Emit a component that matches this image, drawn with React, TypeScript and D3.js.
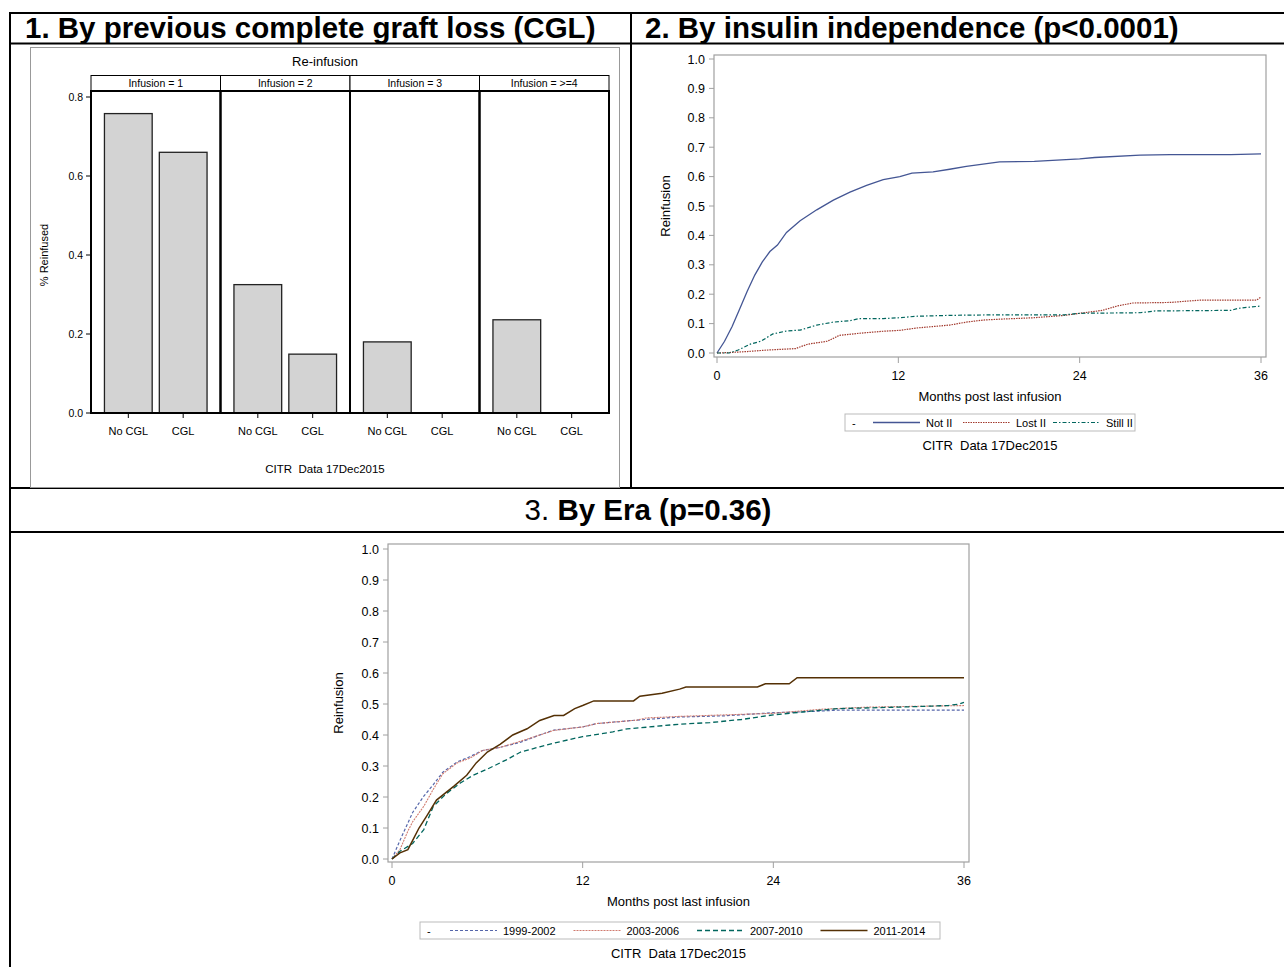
import React from 'react';
import * as d3 from 'd3';

const font = "'Liberation Sans', Arial, Helvetica, sans-serif";
const footnote = 'CITR\u00a0\u00a0Data 17Dec2015';

// panel 1: bar chart by previous complete graft loss
const infusionGroups = ['Infusion = 1', 'Infusion = 2', 'Infusion = 3', 'Infusion = >=4'];
const cglGroups = ['No CGL', 'CGL'];
const noCglReinfused = [0.758, 0.325, 0.18, 0.236];
const cglReinfused = [0.66, 0.149, 0, 0];
const barTicks = [0, 0.2, 0.4, 0.6, 0.8];

// panel 2: by insulin independence, [month, cumulative reinfusion]
const notII = [[0,0],[0.5,0.04],[1,0.09],[1.5,0.15],[2,0.21],[2.5,0.265],[3,0.31],[3.5,0.345],[4,0.367],[4.6,0.41],[5.5,0.45],[6.6,0.487],[7.7,0.52],[8.8,0.547],[9.9,0.57],[11,0.59],[12.1,0.6],[12.9,0.612],[14.3,0.616],[15.4,0.625],[16.5,0.635],[18.7,0.65],[21,0.652],[24,0.66],[25,0.665],[28,0.673],[30,0.675],[34,0.675],[36,0.677]];
const lostII = [[0,0],[1,0.002],[2,0.005],[3.3,0.01],[5.2,0.015],[6,0.03],[7.3,0.04],[8.1,0.06],[9.4,0.067],[11,0.074],[12.1,0.077],[13.2,0.085],[14.3,0.09],[15.4,0.095],[16.5,0.105],[17.6,0.112],[18.7,0.115],[21,0.12],[23,0.128],[24,0.135],[25.5,0.145],[26.5,0.16],[27.5,0.17],[30,0.172],[32,0.18],[35.7,0.18],[36,0.19]];
const stillII = [[0,0],[0.8,0],[1.4,0.01],[2.2,0.03],[2.9,0.04],[3.7,0.065],[4.6,0.075],[5.5,0.078],[6.6,0.095],[7.7,0.105],[8.8,0.11],[9.4,0.117],[11,0.117],[12.1,0.12],[13.2,0.125],[15.4,0.128],[18.7,0.13],[23,0.13],[24,0.135],[28,0.137],[29,0.143],[34,0.145],[34.5,0.152],[36,0.16]];

// panel 3: by era
const era1999 = [[0,0],[0.5,0.06],[1.3,0.15],[1.96,0.2],[2.6,0.24],[3.2,0.28],[4.1,0.313],[4.9,0.33],[5.7,0.35],[6.8,0.36],[8.1,0.377],[9.3,0.4],[10.2,0.416],[12,0.426],[12.9,0.437],[15.4,0.448],[18.1,0.458],[21,0.462],[24,0.472],[26,0.475],[28,0.48],[36,0.48]];
const era2003 = [[0,0],[0.5,0.03],[1,0.09],[1.3,0.12],[2,0.17],[2.6,0.225],[3.2,0.275],[4.1,0.31],[4.9,0.325],[5.7,0.35],[6.8,0.36],[8.1,0.38],[9.3,0.4],[10.2,0.415],[12,0.426],[12.9,0.437],[15.4,0.448],[16,0.455],[18.1,0.46],[21,0.465],[24,0.47],[27,0.483],[30,0.49],[36,0.495]];
const era2007 = [[0,0],[0.5,0.025],[1.3,0.05],[2,0.095],[2.6,0.17],[3.4,0.21],[4.3,0.245],[5.1,0.27],[6,0.29],[7.2,0.32],[8.1,0.345],[9.3,0.362],[10.2,0.374],[12,0.395],[12.7,0.4],[13.9,0.41],[14.8,0.42],[16,0.425],[18.1,0.435],[20,0.44],[22,0.45],[24,0.465],[26,0.475],[28,0.485],[32,0.49],[35,0.495],[35.7,0.5],[36,0.505]];
const era2011 = [[0,0],[0.5,0.02],[1,0.03],[1.3,0.06],[1.7,0.1],[2.2,0.14],[2.8,0.19],[3.9,0.235],[4.7,0.27],[5.3,0.31],[6,0.345],[6.8,0.37],[7.6,0.4],[8.5,0.42],[9.3,0.447],[10.2,0.463],[10.8,0.463],[11.5,0.485],[12,0.495],[12.7,0.51],[15.2,0.51],[15.6,0.525],[17,0.535],[18.1,0.548],[18.5,0.555],[23,0.555],[23.5,0.565],[25,0.565],[25.5,0.585],[36,0.585]];

const monthTicks = [0, 12, 24, 36];
const kmTicks = [0, 0.1, 0.2, 0.3, 0.4, 0.5, 0.6, 0.7, 0.8, 0.9, 1.0];

const iiSeries = [
  { name: 'Not II', data: notII, color: '#445694', dash: null, width: 1.3 },
  { name: 'Lost II', data: lostII, color: '#A23A2E', dash: '1.5,1', width: 1.2 },
  { name: 'Still II', data: stillII, color: '#01665E', dash: '4,2,1.5,2', width: 1.2 },
];
const eraSeries = [
  { name: '1999-2002', data: era1999, color: '#5566AA', dash: '3,2', width: 1.2 },
  { name: '2003-2006', data: era2003, color: '#D07A6E', dash: '2,1', width: 1.1 },
  { name: '2007-2010', data: era2007, color: '#01665E', dash: '5,3', width: 1.3 },
  { name: '2011-2014', data: era2011, color: '#543005', dash: null, width: 1.5 },
];

function BarPanel() {
  const fx = d3.scaleBand().domain(infusionGroups).range([91, 609]).padding(0);
  const y = d3.scaleLinear().domain([0, 0.8]).range([413, 97]);
  const top = 91;
  return (
    <g fontFamily={font}>
      <rect x={30.5} y={47.5} width={589} height={440} fill="none" stroke="#999" />
      <text x={325} y={66} textAnchor="middle" fontSize={13}>Re-infusion</text>
      {barTicks.map((t) => (
        <g key={t}>
          <line x1={86} x2={91} y1={y(t)} y2={y(t)} stroke="#000" />
          <text x={83} y={y(t) + 3.5} textAnchor="end" fontSize={10.5}>{t.toFixed(1)}</text>
        </g>
      ))}
      <text transform="translate(48,255) rotate(-90)" textAnchor="middle" fontSize={11}>% Reinfused</text>
      {infusionGroups.map((g, i) => {
        const x0 = fx(g)!;
        const bx = d3.scaleBand().domain(cglGroups).range([x0, x0 + fx.bandwidth()]).paddingInner(0.13).paddingOuter(0.245);
        const vals = [noCglReinfused[i], cglReinfused[i]];
        return (
          <g key={g}>
            <rect x={x0} y={75.5} width={fx.bandwidth()} height={15.5} fill="#fff" stroke="#000" strokeWidth={1} />
            <text x={x0 + fx.bandwidth() / 2} y={86.5} textAnchor="middle" fontSize={10.5}>{g}</text>
            {cglGroups.map((c, j) => (
              <g key={c}>
                {vals[j] > 0 && (
                  <rect x={bx(c)!} y={y(vals[j])} width={bx.bandwidth()} height={y(0) - y(vals[j])}
                    fill="#D3D3D3" stroke="#222" strokeWidth={1.3} />
                )}
                <line x1={bx(c)! + bx.bandwidth() / 2} x2={bx(c)! + bx.bandwidth() / 2} y1={y(0)} y2={y(0) + 5} stroke="#000" />
                <text x={bx(c)! + bx.bandwidth() / 2} y={435} textAnchor="middle" fontSize={11}>{c}</text>
              </g>
            ))}
            <rect x={x0} y={top} width={fx.bandwidth()} height={y(0) - top} fill="none" stroke="#000" strokeWidth={2} />
          </g>
        );
      })}
      <text x={325} y={473} textAnchor="middle" fontSize={11.5}>{footnote}</text>
    </g>
  );
}

function KMPanel({ frame, xr, yr, series, legend, yLabelX }) {
  const x = d3.scaleLinear().domain([0, 36]).range(xr);
  const y = d3.scaleLinear().domain([0, 1]).range(yr);
  const line = d3.line().x((d) => x(d[0])).y((d) => y(d[1])).curve(d3.curveLinear);
  const cx = (frame.x0 + frame.x1) / 2;
  return (
    <g fontFamily={font}>
      <rect x={frame.x0} y={frame.y0} width={frame.x1 - frame.x0} height={frame.y1 - frame.y0} fill="none" stroke="#A0A0A0" strokeWidth={1.2} />
      {kmTicks.map((t) => (
        <g key={t}>
          <line x1={frame.x0 - 5} x2={frame.x0} y1={y(t)} y2={y(t)} stroke="#A0A0A0" />
          <text x={frame.x0 - 9} y={y(t) + 4.5} textAnchor="end" fontSize={12.5}>{t.toFixed(1)}</text>
        </g>
      ))}
      {monthTicks.map((t) => (
        <g key={t}>
          <line x1={x(t)} x2={x(t)} y1={frame.y1} y2={frame.y1 + 6} stroke="#A0A0A0" />
          <text x={x(t)} y={frame.y1 + 23} textAnchor="middle" fontSize={12.5}>{t}</text>
        </g>
      ))}
      <text transform={`translate(${yLabelX},${(frame.y0 + frame.y1) / 2}) rotate(-90)`} textAnchor="middle" fontSize={13}>Reinfusion</text>
      <text x={cx} y={frame.y1 + 44} textAnchor="middle" fontSize={13}>Months post last infusion</text>
      {series.map((s) => (
        <path key={s.name} d={line(s.data)} fill="none" stroke={s.color} strokeWidth={s.width}
          strokeDasharray={s.dash || undefined} />
      ))}
      <rect x={legend.x0} y={legend.y} width={legend.x1 - legend.x0} height={17} fill="#fff" stroke="#BBB" />
      <text x={legend.x0 + 7} y={legend.y + 13} fontSize={11}>-</text>
      {series.map((s, i) => {
        const lx = legend.x0 + legend.first + i * legend.step;
        return (
          <g key={s.name}>
            <line x1={lx} x2={lx + 47} y1={legend.y + 8.5} y2={legend.y + 8.5} stroke={s.color}
              strokeWidth={s.width} strokeDasharray={s.dash || undefined} />
            <text x={lx + 53} y={legend.y + 12.5} fontSize={11}>{s.name}</text>
          </g>
        );
      })}
      <text x={cx} y={legend.y + 36} textAnchor="middle" fontSize={13}>{footnote}</text>
    </g>
  );
}

export default function App() {
  return (
    <div style={{ position: 'absolute', left: 0, top: 0 }}>
      <svg width={1284} height={967} style={{ display: 'block', background: '#fff' }}>
        <g stroke="#000" strokeWidth={2}>
          <line x1={9} x2={1284} y1={13} y2={13} />
          <line x1={9} x2={1284} y1={43.5} y2={43.5} />
          <line x1={631} x2={631} y1={13} y2={488} />
          <line x1={9} x2={1284} y1={488} y2={488} />
          <line x1={9} x2={1284} y1={532} y2={532} />
          <line x1={10} x2={10} y1={12} y2={967} />
        </g>
        <g fontFamily={font} fontWeight="bold" fontSize={29.5}>
          <text x={25} y={38}>1. By previous complete graft loss (CGL)</text>
          <text x={645} y={38}>2. By insulin independence (p&lt;0.0001)</text>
          <text x={648} y={520} textAnchor="middle">
            <tspan fontWeight="normal">3. </tspan>By Era (p=0.36)
          </text>
        </g>
        <BarPanel />
        <KMPanel
          frame={{ x0: 714, x1: 1266, y0: 55, y1: 357 }}
          xr={[717, 1261]}
          yr={[353, 59]}
          series={iiSeries}
          legend={{ x0: 845, x1: 1135, y: 414, first: 28, step: 90 }}
          yLabelX={670}
        />
        <KMPanel
          frame={{ x0: 388, x1: 969, y0: 544, y1: 862 }}
          xr={[392, 964]}
          yr={[859, 549]}
          series={eraSeries}
          legend={{ x0: 420, x1: 940, y: 922, first: 30, step: 123.5 }}
          yLabelX={343}
        />
      </svg>
    </div>
  );
}
